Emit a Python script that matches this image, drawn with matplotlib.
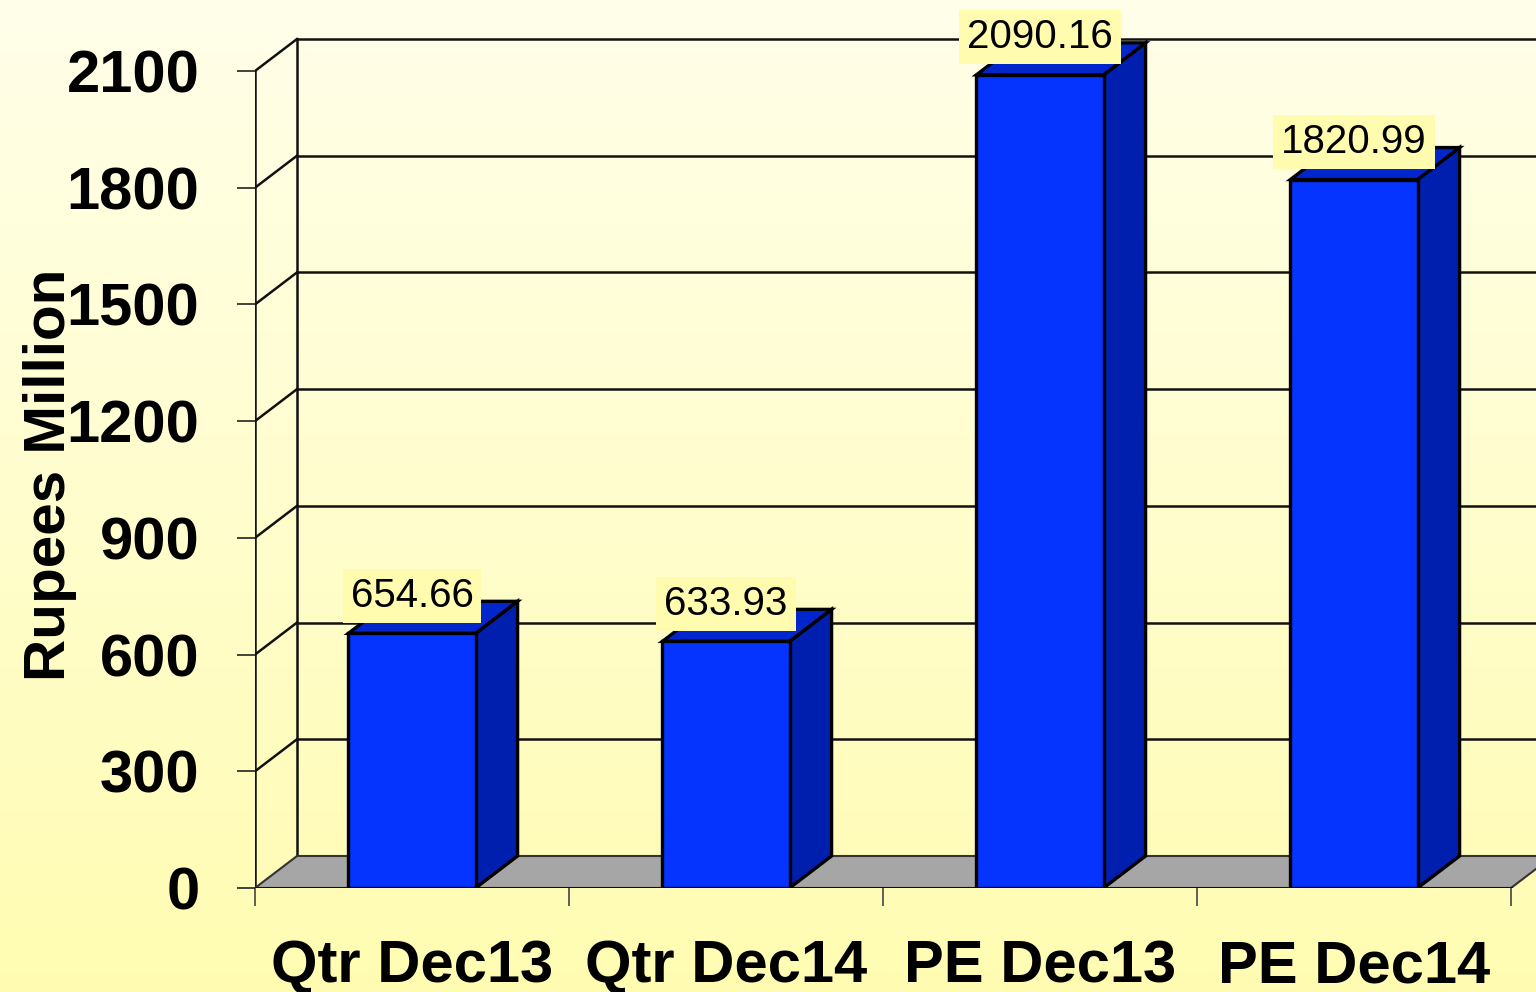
import numpy as np
import matplotlib
matplotlib.use("Agg")
import matplotlib.pyplot as plt
from matplotlib.patches import Polygon

# --- data ---
categories = ["Qtr Dec13", "Qtr Dec14", "PE Dec13", "PE Dec14"]
values = [654.66, 633.93, 2090.16, 1820.99]
value_labels = ["654.66", "633.93", "2090.16", "1820.99"]
y_ticks = [0, 300, 600, 900, 1200, 1500, 1800, 2100]
y_label = "Rupees Million"

# --- style ---
front_col = "#0533FF"
top_col = "#0026CC"
side_col = "#001FAF"
floor_col = "#A6A6A6"
box_col = "#FFFBAF"
line_col = "#111111"

plt.rcParams["font.family"] = ["Liberation Sans", "DejaVu Sans"]

fig = plt.figure(figsize=(15.36, 9.92), dpi=100)

# background gradient (light cream at the top to pale yellow at the bottom)
bg = fig.add_axes([0, 0, 1, 1], zorder=-10)
top_rgb = np.array([255, 255, 233]) / 255
bot_rgb = np.array([255, 252, 178]) / 255
t = np.linspace(0, 1, 256)[:, None, None]
grad = top_rgb * (1 - t) + bot_rgb * t
bg.imshow(grad, aspect="auto", extent=[0, 1, 0, 1])
bg.axis("off")

ax = fig.add_axes([255 / 1536, 104 / 992, 1281 / 1536, 888 / 992])
ax.set_facecolor("none")
px_per_unit = 817 / 2100
ax.set_xlim(-0.5, -0.5 + 1281 / 314)
ax.set_ylim(0, 888 / px_per_unit)
for s in ax.spines.values():
    s.set_visible(False)

n = len(categories)
x = np.arange(n)
dx = 42 / 314           # depth offset, category units
dy = 32 / px_per_unit   # depth offset, value units
bar_w = 0.405
x_left, x_right = -0.5, n - 0.5

# back wall + left wall gridlines
for tv in y_ticks[1:]:
    ax.plot([x_left, x_left + dx], [tv, tv + dy], color=line_col, lw=1.8, zorder=1)
    ax.plot([x_left + dx, x_right + 1], [tv + dy, tv + dy], color=line_col, lw=1.8, zorder=1)
ax.plot([x_left, x_left], [0, y_ticks[-1]], color=line_col, lw=1.8, zorder=1)
ax.plot([x_left + dx, x_left + dx], [dy, y_ticks[-1] + dy], color=line_col, lw=1.8, zorder=1)

# floor
floor = Polygon([(x_left, 0), (x_right, 0), (x_right + dx, dy), (x_left + dx, dy)],
                closed=True, facecolor=floor_col, edgecolor="#333333", lw=1.5, zorder=2)
ax.add_patch(floor)
ax.plot([x_left, x_right], [0, 0], color=line_col, lw=2.2, zorder=3)

# bars
for xi, v, lab in zip(x, values, value_labels):
    x0, x1 = xi - bar_w / 2, xi + bar_w / 2
    side = Polygon([(x1, 0), (x1 + dx, dy), (x1 + dx, v + dy), (x1, v)],
                   closed=True, facecolor=side_col, edgecolor="black", lw=2.4, zorder=4)
    top = Polygon([(x0, v), (x1, v), (x1 + dx, v + dy), (x0 + dx, v + dy)],
                  closed=True, facecolor=top_col, edgecolor="black", lw=2.4, zorder=4)
    front = Polygon([(x0, 0), (x1, 0), (x1, v), (x0, v)],
                    closed=True, facecolor=front_col, edgecolor="black", lw=2.4, zorder=5)
    for p in (side, top, front):
        ax.add_patch(p)
    ax.annotate(lab, (xi, v), xytext=(0, 27), textcoords="offset points",
                ha="center", va="center", fontsize=29, color="black", zorder=6,
                bbox=dict(boxstyle="square,pad=0.2", facecolor=box_col, edgecolor="none"))

# y axis ticks
ax.set_yticks(y_ticks)
ax.set_yticklabels([str(v) for v in y_ticks], fontsize=43, fontweight="bold")
ax.tick_params(axis="y", direction="out", length=13, width=1.2, color="#222222", pad=27)

# x axis: boundary ticks + category labels
ax.set_xticks(np.arange(n + 1) - 0.5)
ax.set_xticklabels([""] * (n + 1))
ax.set_xticks(x, minor=True)
ax.set_xticklabels(categories, minor=True, fontsize=43, fontweight="bold")
ax.tick_params(axis="x", which="major", direction="out", length=13, width=1.2, color="#444444")
ax.tick_params(axis="x", which="minor", length=0, pad=37)

ax.set_ylabel(y_label, fontsize=42, fontweight="bold")
ax.yaxis.set_label_coords(-0.139, 0.465)

fig.savefig("out.png", dpi=100)
